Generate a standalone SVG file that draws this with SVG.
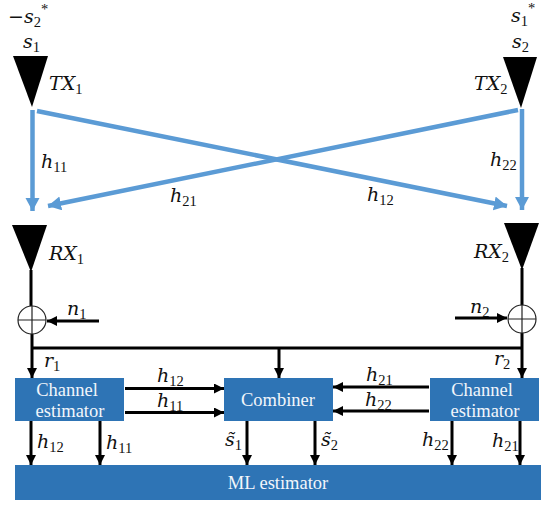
<svg xmlns="http://www.w3.org/2000/svg" width="550" height="508" viewBox="0 0 550 508">
<style>
.m{font-family:"DejaVu Serif","Liberation Serif",serif;font-style:italic;font-size:19px;fill:#111}
.s{font-family:"Liberation Serif",serif;font-size:14.500px;font-style:normal}
.b{font-family:"Liberation Serif",serif;font-size:18.500px;fill:#f2f6fb;text-anchor:middle}
.box{fill:#2e74b5}
.ant{fill:#000}
.k{stroke:#000;stroke-width:3;fill:none;marker-end:url(#ka)}
.bl{stroke:#5b9bd5;stroke-width:4.500;fill:none;marker-end:url(#ba)}
</style>
<defs>
<marker id="ka" markerUnits="userSpaceOnUse" markerWidth="12" markerHeight="12" refX="10" refY="5" orient="auto"><path d="M0 0L10 5L0 10z" fill="#000"/></marker>
<marker id="ba" markerUnits="userSpaceOnUse" markerWidth="16" markerHeight="16" refX="13" refY="7" orient="auto"><path d="M0 0L13 7L0 14z" fill="#5b9bd5"/></marker>
</defs>
<rect width="550" height="508" fill="#fff"/>
<g id="connectors">
<path class="bl" d="M32.500 110V211"/>
<path class="bl" d="M522 109V210"/>
<path class="bl" d="M37 111L507 206"/>
<path class="bl" d="M518 110L48 206"/>
<path d="M31 270V306M522 268V306M32 334V348M32 348H522M522 333V348" stroke="#000" stroke-width="3" fill="none"/>
<path class="k" d="M99 321H47"/>
<path class="k" d="M455 318H507"/>
<path class="k" d="M32 348V378"/>
<path class="k" d="M522 348V378"/>
<path class="k" d="M279 348V378"/>
<path class="k" d="M125 388.500H224"/>
<path class="k" d="M125 412.500H224"/>
<path class="k" d="M429 387H333"/>
<path class="k" d="M429 411H333"/>
<path class="k" d="M31 421V465"/>
<path class="k" d="M100 421V465"/>
<path class="k" d="M247 421V465"/>
<path class="k" d="M315 421V465"/>
<path class="k" d="M452 421V465"/>
<path class="k" d="M520 421V465"/>
</g>
<g id="tx1"><path class="ant" d="M13 56H48L32 107z"/>
<text class="m" x="49" y="90">TX<tspan class="s" dy="4">1</tspan></text>
<text class="m" x="23" y="48">s<tspan class="s" dy="4">1</tspan></text>
<text class="m" x="8" y="23">−s<tspan class="s" dy="4">2</tspan><tspan class="s" dy="-13">*</tspan></text></g>
<g id="tx2"><path class="ant" d="M503 57H537L521 108z"/>
<text class="m" x="474" y="90">TX<tspan class="s" dy="4">2</tspan></text>
<text class="m" x="512" y="48">s<tspan class="s" dy="4">2</tspan></text>
<text class="m" x="511" y="22">s<tspan class="s" dy="4">1</tspan><tspan class="s" dy="-13">*</tspan></text></g>
<g id="rx1"><path class="ant" d="M12 225H47L31 272z"/>
<text class="m" x="49" y="260">RX<tspan class="s" dy="4">1</tspan></text></g>
<g id="rx2"><path class="ant" d="M504 223H539L522 270z"/>
<text class="m" x="474" y="258">RX<tspan class="s" dy="4">2</tspan></text></g>
<g id="sum1"><circle cx="32" cy="320" r="14" fill="#fff" stroke="#222" stroke-width="1.200"/><path d="M18 320H46M32 306V334" stroke="#222" stroke-width="1.200"/></g>
<g id="sum2"><circle cx="522" cy="319" r="14" fill="#fff" stroke="#222" stroke-width="1.200"/><path d="M508 319H536M522 305V333" stroke="#222" stroke-width="1.200"/></g>
<g id="ce1"><rect class="box" x="15" y="378" width="109" height="43"/><text class="b" x="67" y="396">Channel</text><text class="b" x="70" y="417">estimator</text></g>
<g id="combiner"><rect class="box" x="224" y="378" width="109" height="43"/><text class="b" x="278" y="406">Combiner</text></g>
<g id="ce2"><rect class="box" x="430" y="378" width="109" height="43"/><text class="b" x="482" y="396">Channel</text><text class="b" x="485" y="417">estimator</text></g>
<g id="ml"><rect class="box" x="15" y="465" width="526" height="35"/><text class="b" x="278" y="489">ML estimator</text></g>
<g id="labels">
<text class="m" x="41" y="168">h<tspan class="s" dy="4">11</tspan></text>
<text class="m" x="490" y="166">h<tspan class="s" dy="4">22</tspan></text>
<text class="m" x="170" y="202">h<tspan class="s" dy="4">21</tspan></text>
<text class="m" x="367" y="201">h<tspan class="s" dy="4">12</tspan></text>
<text class="m" x="67" y="315">n<tspan class="s" dy="4">1</tspan></text>
<text class="m" x="470" y="313">n<tspan class="s" dy="4">2</tspan></text>
<text class="m" x="44" y="367">r<tspan class="s" dy="4">1</tspan></text>
<text class="m" x="494" y="365">r<tspan class="s" dy="4">2</tspan></text>
<text class="m" x="157" y="382">h<tspan class="s" dy="4">12</tspan></text>
<text class="m" x="157" y="407">h<tspan class="s" dy="4">11</tspan></text>
<text class="m" x="366" y="381">h<tspan class="s" dy="4">21</tspan></text>
<text class="m" x="365" y="406">h<tspan class="s" dy="4">22</tspan></text>
<text class="m" x="37" y="448">h<tspan class="s" dy="4">12</tspan></text>
<text class="m" x="106" y="449">h<tspan class="s" dy="4">11</tspan></text>
<text class="m" x="225" y="446">s̃<tspan class="s" dy="4">1</tspan></text>
<text class="m" x="321" y="446">s̃<tspan class="s" dy="4">2</tspan></text>
<text class="m" x="422" y="446">h<tspan class="s" dy="4">22</tspan></text>
<text class="m" x="492" y="447">h<tspan class="s" dy="4">21</tspan></text>
</g>
</svg>
